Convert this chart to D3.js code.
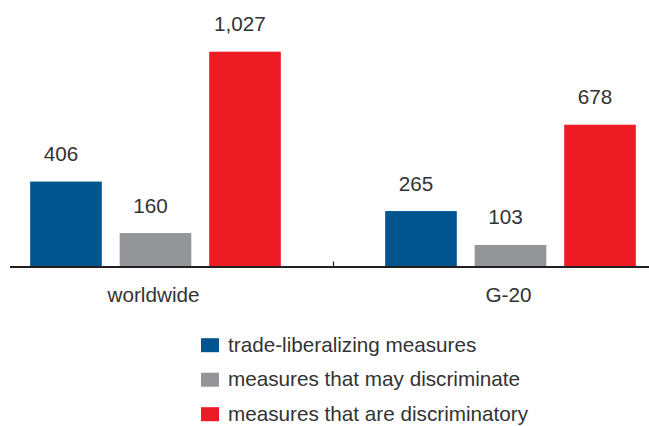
<!DOCTYPE html>
<html><head><meta charset="utf-8">
<script src="https://cdn.jsdelivr.net/npm/d3@7"></script>
<style>html,body{margin:0;padding:0;background:#fff}svg{display:block}text{font-family:"Liberation Sans",Arial,sans-serif;fill:#333}</style>
</head><body>
<svg id="c" width="649" height="426"></svg>
<script>
const categories = ["worldwide", "G-20"];
const seriesNames = ["trade-liberalizing measures", "measures that may discriminate", "measures that are discriminatory"];
const liberalizing = [406, 265];
const mayDiscriminate = [160, 103];
const discriminatory = [1027, 678];
const seriesColors = ["#00558f", "#939598", "#ed1c24"];

const seriesValues = [liberalizing, mayDiscriminate, discriminatory];
const svg = d3.select("#c");
const baseY = 266.5;
const fmt = d3.format(",");

const x0 = d3.scaleBand().domain(categories).range([-22, 688]).padding(0);
const x1 = d3.scaleBand().domain(seriesNames).range([0, x0.bandwidth()]).paddingInner(0.2).paddingOuter(0.583);
const y = d3.scaleLinear().domain([0, 1027]).range([baseY, 51.7]);

const data = [];
categories.forEach((c, i) => seriesNames.forEach((s, j) => data.push({c, s, v: seriesValues[j][i], color: seriesColors[j]})));

svg.selectAll("rect.bar").data(data).join("rect").attr("class", "bar")
  .attr("x", d => x0(d.c) + x1(d.s)).attr("width", x1.bandwidth())
  .attr("y", d => y(d.v)).attr("height", d => y(0) - y(d.v)).attr("fill", d => d.color);

svg.selectAll("text.val").data(data).join("text").attr("class", "val")
  .attr("x", d => x0(d.c) + x1(d.s) + x1.bandwidth() / 2 - 5)
  .attr("y", d => y(d.v) - 20.5).attr("text-anchor", "middle")
  .attr("font-size", "20.7px").text(d => fmt(d.v));

// axis line
svg.append("line").attr("x1", 10).attr("x2", 649).attr("y1", baseY + 0.5).attr("y2", baseY + 0.5)
  .attr("stroke", "#231f20").attr("stroke-width", 2);
// separator tick
svg.append("line").attr("x1", x0("G-20") + 0.5).attr("x2", x0("G-20") + 0.5).attr("y1", 261.5).attr("y2", baseY)
  .attr("stroke", "#231f20").attr("stroke-width", 1.2);

svg.selectAll("text.cat").data(categories).join("text").attr("class", "cat")
  .attr("x", d => x0(d) + x0.bandwidth() / 2 - 2).attr("y", 301.5).attr("text-anchor", "middle")
  .attr("font-size", "20.7px").text(d => d);

const lg = svg.append("g").attr("transform", "translate(201,0)");
const ly = d3.scalePoint().domain(seriesNames).range([351.5, 420.5]);
lg.selectAll("rect").data(seriesNames).join("rect")
  .attr("x", 0).attr("y", d => ly(d) - 13.3).attr("width", 18).attr("height", 14)
  .attr("fill", (d, i) => seriesColors[i]);
lg.selectAll("text").data(seriesNames).join("text")
  .attr("x", 27).attr("y", d => ly(d)).attr("font-size", "20.7px").text(d => d);
</script>
</body></html>
